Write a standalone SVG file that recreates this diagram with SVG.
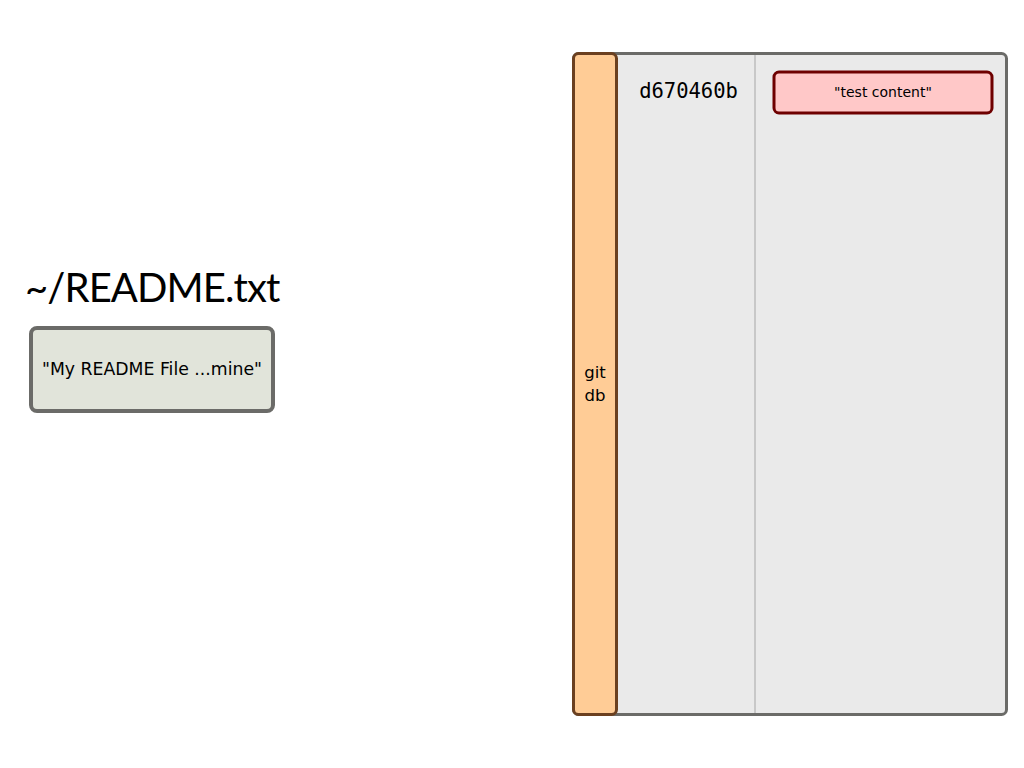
<svg xmlns="http://www.w3.org/2000/svg" width="1024" height="768" viewBox="0 0 1024 768">
<style>
.sans{font-family:"Lucida Grande","DejaVu Sans","Noto Sans",sans-serif;fill:#000}
.mono{font-family:"DejaVu Sans Mono","Liberation Mono",monospace;fill:#000}
.title{font-family:"Lato","Open Sans",sans-serif;fill:#000}
</style>
<rect width="1024" height="768" fill="#fff"/>
<g id="db">
<rect x="573.5" y="53.5" width="433" height="661" rx="5" fill="#eaeaea" stroke="#6b6b68" stroke-width="3"/>
<line x1="755" y1="55" x2="755" y2="713" stroke="#bdbdbd" stroke-width="1.5"/>
<rect x="573.5" y="53.5" width="43" height="661" rx="5" fill="#ffcc96" stroke="#6b4020" stroke-width="3"/>
<text class="sans" x="595" y="378" font-size="16.5" text-anchor="middle">git</text>
<text class="sans" x="595" y="401" font-size="16.5" text-anchor="middle">db</text>
</g>
<g id="hash">
<text class="mono" x="688.5" y="98" font-size="20.5" text-anchor="middle">d670460b</text>
</g>
<g id="blob">
<rect x="774" y="72" width="218" height="41" rx="5" fill="#ffc8c8" stroke="#6e0000" stroke-width="3"/>
<text class="sans" x="883" y="97" font-size="14" text-anchor="middle">"test content"</text>
</g>
<g id="readme">
<text class="title" x="25" y="302" font-size="40" letter-spacing="-0.9">~/README.txt</text>
<rect x="31" y="328" width="242" height="83" rx="6" fill="#e1e4da" stroke="#6b6b68" stroke-width="4"/>
<text class="sans" x="152" y="375" font-size="17.3" text-anchor="middle">"My README File ...mine"</text>
</g>
<g id="connectors"/>
</svg>
